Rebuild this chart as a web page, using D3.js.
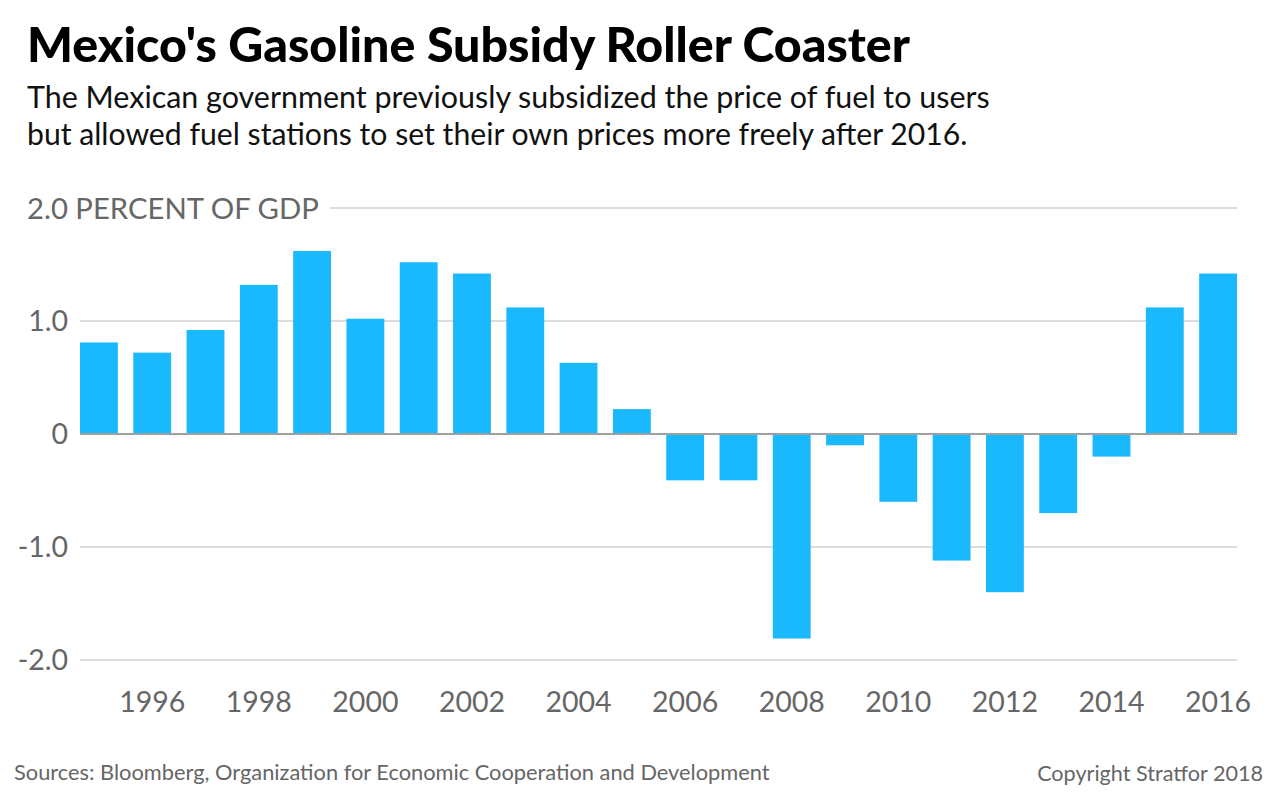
<!DOCTYPE html>
<html><head><meta charset="utf-8">
<script src="https://cdn.jsdelivr.net/npm/d3@7/dist/d3.min.js"></script>
<style>
body{margin:0;background:#fff;}
svg{display:block;font-family:Lato,"Open Sans",sans-serif;}
</style></head>
<body><svg id="c" width="1280" height="802"></svg>
<script>
const years = [1995,1996,1997,1998,1999,2000,2001,2002,2003,2004,2005,2006,2007,2008,2009,2010,2011,2012,2013,2014,2015,2016];
const values = [0.81,0.72,0.92,1.32,1.62,1.02,1.52,1.42,1.12,0.63,0.22,-0.41,-0.41,-1.81,-0.1,-0.6,-1.12,-1.4,-0.7,-0.2,1.12,1.42];
const yTicks = [-2,-1,0,1,2];
const yTickLabels = ["-2.0","-1.0","0","1.0","2.0 PERCENT OF GDP"];
const xTickYears = [1996,1998,2000,2002,2004,2006,2008,2010,2012,2014,2016];
const title = "Mexico's Gasoline Subsidy Roller Coaster";
const subtitle = ["The Mexican government previously subsidized the price of fuel to users","but allowed fuel stations to set their own prices more freely after 2016."];
const source = "Sources: Bloomberg, Organization for Economic Cooperation and Development";
const copyright = "Copyright Stratfor 2018";

const svg = d3.select("#c");
function fit(sel, w){ const l = sel.node().getComputedTextLength(); const fs = parseFloat(sel.attr("font-size")); sel.attr("font-size", fs*w/l); }

const t = svg.append("text").attr("x",27).attr("y",62).attr("font-size",40).attr("font-weight",900).attr("fill","#000").text(title);
fit(t, 883);
subtitle.forEach((s,i)=>{
  const st = svg.append("text").attr("x",27).attr("y",108+i*37).attr("font-size",27).attr("fill","#111").text(s);
  fit(st, i===0?963:941);
});

const x = d3.scaleBand().domain(years).range([80,1237]).paddingInner(0.29).paddingOuter(0);
const y = d3.scaleLinear().domain([-2,2]).range([660,208]);

// gridlines
const grid = svg.append("g");
yTicks.forEach(v=>{
  if(v===0) return;
  grid.append("line").attr("x1", v===2?330:80).attr("x2",1237).attr("y1",y(v)).attr("y2",y(v)).attr("stroke","#d0d0d0").attr("stroke-width",1.5);
});

const yAxis = d3.axisLeft(y).tickValues(yTicks).tickSize(0).tickPadding(0).tickFormat((d,i)=>yTickLabels[i]);
const ya = svg.append("g").attr("transform","translate(68,0)").call(yAxis);
ya.select(".domain").remove();
ya.selectAll("text").attr("font-size",28.5).attr("fill","#666").attr("font-family","Lato,sans-serif").attr("dy","0.35em");
const topLab = ya.selectAll(".tick").filter(d=>d===2).select("text").attr("text-anchor","start").attr("x",-41);
fit(topLab, 292);

svg.append("g").selectAll("rect").data(years).join("rect")
  .attr("x",d=>x(d)).attr("width",x.bandwidth())
  .attr("y",(d,i)=>y(Math.max(0,values[i])))
  .attr("height",(d,i)=>Math.abs(y(values[i])-y(0)))
  .attr("fill","#1ab8fd");

svg.append("line").attr("x1",80).attr("x2",1237).attr("y1",y(0)).attr("y2",y(0)).attr("stroke","#a0a0a0").attr("stroke-width",2);

const xAxis = d3.axisBottom(x).tickValues(xTickYears).tickSize(0).tickPadding(0);
const xa = svg.append("g").attr("transform","translate(0,692)").call(xAxis);
xa.select(".domain").remove();
xa.selectAll("text").attr("font-size",28.5).attr("fill","#666").attr("font-family","Lato,sans-serif").attr("dy","0.71em");

const so = svg.append("text").attr("x",14).attr("y",780).attr("font-size",20).attr("fill","#666").text(source);
fit(so, 756);
const co = svg.append("text").attr("x",1263).attr("y",781).attr("text-anchor","end").attr("font-size",20).attr("fill","#666").text(copyright);
fit(co, 226);
</script></body></html>
